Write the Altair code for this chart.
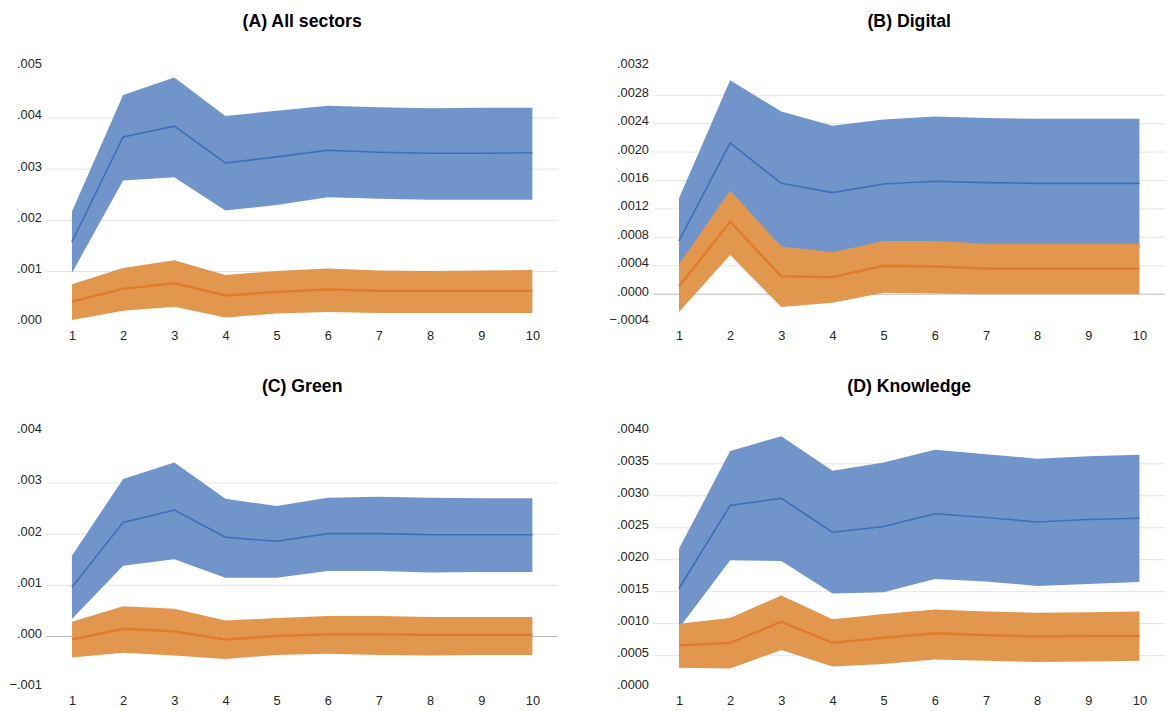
import altair as alt
import pandas as pd

periods = [1, 2, 3, 4, 5, 6, 7, 8, 9, 10]

# (A) All sectors
a_blue_hi = [.00217, .00445, .00479, .00404, .00414, .00424, .00421, .00419, .00420, .00420]
a_blue_mid = [.00158, .00363, .00384, .00312, .00324, .00337, .00333, .00331, .00331, .00332]
a_blue_lo = [.00097, .00278, .00284, .00219, .00230, .00245, .00242, .00240, .00240, .00240]
a_orng_hi = [.00075, .00107, .00122, .00093, .00101, .00106, .00102, .00101, .00102, .00103]
a_orng_mid = [.00041, .00066, .00077, .00053, .00060, .00065, .00062, .00062, .00062, .00062]
a_orng_lo = [.00005, .00023, .00031, .00010, .00018, .00021, .00019, .00019, .00019, .00019]

# (B) Digital
b_blue_hi = [.00135, .00301, .00257, .00237, .00246, .00250, .00248, .00247, .00247, .00247]
b_blue_mid = [.00075, .00213, .00156, .00143, .00155, .00159, .00157, .00156, .00156, .00156]
b_blue_lo = [.00015, .00125, .00055, .00049, .00064, .00068, .00066, .00065, .00065, .00065]
b_orng_hi = [.00042, .00146, .00067, .00059, .00075, .00075, .00071, .00071, .00071, .00071]
b_orng_mid = [.00011, .00102, .00025, .00024, .00040, .00039, .00036, .00036, .00036, .00036]
b_orng_lo = [-.00025, .00055, -.00018, -.00012, .00002, .00001, .00000, .00000, .00000, .00000]

# (C) Green
c_blue_hi = [.00158, .00308, .00340, .00269, .00255, .00271, .00273, .00271, .00270, .00270]
c_blue_mid = [.00096, .00223, .00247, .00194, .00186, .00201, .00201, .00199, .00199, .00199]
c_blue_lo = [.00034, .00138, .00151, .00115, .00115, .00128, .00128, .00125, .00126, .00126]
c_orng_hi = [.00029, .00059, .00054, .00031, .00036, .00040, .00040, .00038, .00038, .00038]
c_orng_mid = [-.00006, .00015, .00010, -.00006, .00001, .00004, .00004, .00003, .00003, .00003]
c_orng_lo = [-.00041, -.00032, -.00037, -.00044, -.00036, -.00034, -.00036, -.00037, -.00036, -.00036]

# (D) Knowledge
d_blue_hi = [.00217, .00370, .00393, .00339, .00352, .00372, .00365, .00358, .00362, .00364]
d_blue_mid = [.00155, .00285, .00296, .00243, .00252, .00272, .00266, .00259, .00263, .00265]
d_blue_lo = [.00093, .00199, .00198, .00147, .00149, .00170, .00166, .00159, .00162, .00165]
d_orng_hi = [.00100, .00109, .00144, .00107, .00115, .00122, .00119, .00117, .00118, .00119]
d_orng_mid = [.00066, .00070, .00103, .00070, .00078, .00085, .00082, .00080, .00081, .00081]
d_orng_lo = [.00031, .00030, .00059, .00033, .00037, .00044, .00042, .00040, .00041, .00042]

titles = ["(A) All sectors", "(B) Digital", "(C) Green", "(D) Knowledge"]
a_ticks = [0, .001, .002, .003, .004, .005]
b_ticks = [-.0004, 0, .0004, .0008, .0012, .0016, .0020, .0024, .0028, .0032]
c_ticks = [-.001, 0, .001, .002, .003, .004]
d_ticks = [0, .0005, .0010, .0015, .0020, .0025, .0030, .0035, .0040]

BLUE_FILL = "#7195CB"
BLUE_LINE = "#3F6DB8"
ORNG_FILL = "#E1974E"
ORNG_LINE = "#E07A2C"
FONT = "Liberation Sans"


def panel(title, ticks, decimals, zero_line, blo, bmid, bhi, olo, omid, ohi):
    df = pd.DataFrame({"x": periods, "blo": blo, "bmid": bmid, "bhi": bhi,
                       "olo": olo, "omid": omid, "ohi": ohi})
    scale = alt.Scale(domain=[ticks[0], ticks[-1]], nice=False, zero=False)
    xscale = alt.Scale(domain=[0.5, 10.5], nice=False, zero=False)
    xaxis = alt.Axis(values=periods, grid=False, domain=False, ticks=False, tickSize=0,
                     labelPadding=7, labelFlush=False, title=None, labelFontSize=13,
                     labelFont=FONT, labelColor="#262626")
    yaxis = alt.Axis(values=ticks, grid=False, domain=False, ticks=False, tickSize=0,
                     labelPadding=5, labelOffset=-3, title=None, labelFontSize=13,
                     labelFont=FONT, labelColor="#262626",
                     labelExpr=f"replace(format(datum.value, '.{decimals}f'), '0.', '.')")
    X = alt.X("x:Q", scale=xscale, axis=xaxis, title=None)

    def Y(field):
        return alt.Y(field, scale=scale, axis=yaxis, title=None)

    interior = [t for t in ticks[1:-1] if not (zero_line and t == 0)]
    grid = alt.Chart(pd.DataFrame({"v": interior})).mark_rule(
        color="#E3E3E3", strokeWidth=1).encode(y=Y("v:Q"))
    layers = [grid]
    if zero_line:
        zero = alt.Chart(pd.DataFrame({"v": [0]})).mark_rule(
            color="#BDBDBD", strokeWidth=1).encode(y=Y("v:Q"))
        layers.append(zero)
    base = alt.Chart(df)
    layers += [
        base.mark_area(color=BLUE_FILL, opacity=1).encode(
            x=X, y=Y("blo:Q"), y2="bhi:Q"),
        base.mark_line(color=BLUE_LINE, strokeWidth=1.6).encode(
            x=X, y=Y("bmid:Q")),
        base.mark_area(color=ORNG_FILL, opacity=1).encode(
            x=X, y=Y("olo:Q"), y2="ohi:Q"),
        base.mark_line(color=ORNG_LINE, strokeWidth=2.4).encode(
            x=X, y=Y("omid:Q")),
    ]
    return alt.layer(*layers).properties(
        width=520, height=260,
        title=alt.TitleParams(title, fontSize=18, fontWeight="bold", font=FONT,
                              anchor="middle", offset=27, color="#000000"))


pa = panel(titles[0], a_ticks, 3, False, a_blue_lo, a_blue_mid, a_blue_hi, a_orng_lo, a_orng_mid, a_orng_hi)
pb = panel(titles[1], b_ticks, 4, True, b_blue_lo, b_blue_mid, b_blue_hi, b_orng_lo, b_orng_mid, b_orng_hi)
pc = panel(titles[2], c_ticks, 3, True, c_blue_lo, c_blue_mid, c_blue_hi, c_orng_lo, c_orng_mid, c_orng_hi)
pd_ = panel(titles[3], d_ticks, 4, False, d_blue_lo, d_blue_mid, d_blue_hi, d_orng_lo, d_orng_mid, d_orng_hi)

chart = alt.hconcat(
    alt.vconcat(pa, pc, spacing=37),
    alt.vconcat(pb, pd_, spacing=37),
    spacing=50,
).properties(
    padding={"left": 1, "top": 0, "right": 0, "bottom": 0},
    background="white",
).configure_view(stroke=None)

chart.save("out.html", embed_options={"renderer": "svg", "actions": False})
